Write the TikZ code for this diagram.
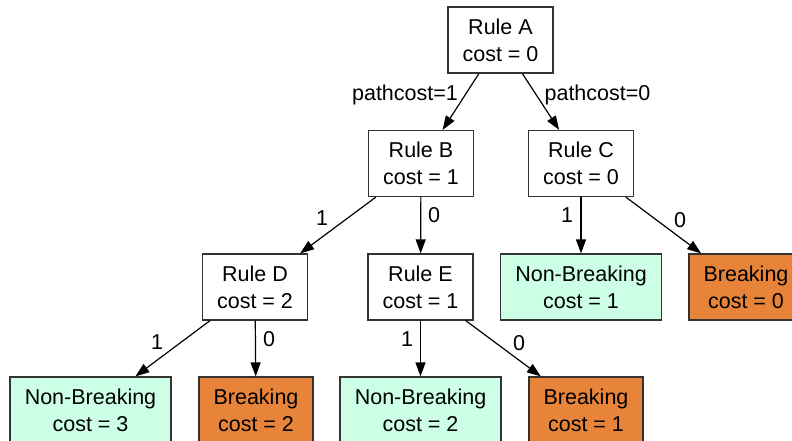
\documentclass[tikz,border=0pt]{standalone}
\usepackage{fontspec}
\setmainfont{Liberation Sans}
\usetikzlibrary{arrows.meta}
\definecolor{nbfill}{HTML}{CCFFE6}
\definecolor{brfill}{HTML}{E8833A}
\definecolor{boxline}{HTML}{333333}
\begin{document}
\begin{tikzpicture}[x=1pt,y=-1pt,
  every node/.style={font=\fontsize{21.5}{27}\selectfont},
  box/.style={draw=boxline, line width=1.2pt, align=center, inner sep=0pt, minimum height=66pt},
  rule/.style={box, fill=white, minimum width=105pt},
  nonbreak/.style={box, fill=nbfill, minimum width=161pt},
  breakbox/.style={box, fill=brfill, minimum width=114pt},
  conn/.style={draw=black, line width=1.2pt, -{Triangle[length=14pt,width=10pt]}},
  lbl/.style={inner sep=0pt}]
\useasboundingbox (0,0) rectangle (792,441);
\clip (0,0) rectangle (792,441);

% decision rules
\node[rule] (A) at (500.5,40) {Rule A\\cost = 0};
\node[rule] (B) at (421,163.5) {Rule B\\cost = 1};
\node[rule] (C) at (581,163.5) {Rule C\\cost = 0};
\node[rule] (D) at (255,287) {Rule D\\cost = 2};
\node[rule] (E) at (420.5,287) {Rule E\\cost = 1};

% outcomes
\node[nonbreak] (NB1) at (581,287) {Non-Breaking\\cost = 1};
\node[breakbox] (BR0) at (746,287) {Breaking\\cost = 0};
\node[nonbreak] (NB3) at (90.5,410) {Non-Breaking\\cost = 3};
\node[breakbox] (BR2) at (256,410) {Breaking\\cost = 2};
\node[nonbreak] (NB2) at (420.5,410) {Non-Breaking\\cost = 2};
\node[breakbox] (BR1) at (586,410) {Breaking\\cost = 1};

% connectors
\draw[conn] (A) -- (B);
\draw[conn] (A) -- (C);
\draw[conn] (B) -- (D);
\draw[conn] (B) -- (E);
\draw[conn] (C) -- (NB1);
\draw[conn] (C) -- (BR0);
\draw[conn] (D) -- (NB3);
\draw[conn] (D) -- (BR2);
\draw[conn] (E) -- (NB2);
\draw[conn] (E) -- (BR1);

% connector labels
\node[lbl] (lAB) at (405,95) {pathcost=1};
\node[lbl] (lAC) at (597.5,95) {pathcost=0};
\node[lbl] (lBD) at (322,218) {1};
\node[lbl] (lBE) at (434,215) {0};
\node[lbl] (lCN) at (567,215) {1};
\node[lbl] (lCB) at (680,220) {0};
\node[lbl] (lDN) at (157,342) {1};
\node[lbl] (lDB) at (269,339) {0};
\node[lbl] (lEN) at (407,339) {1};
\node[lbl] (lEB) at (519,343) {0};
\end{tikzpicture}
\end{document}
